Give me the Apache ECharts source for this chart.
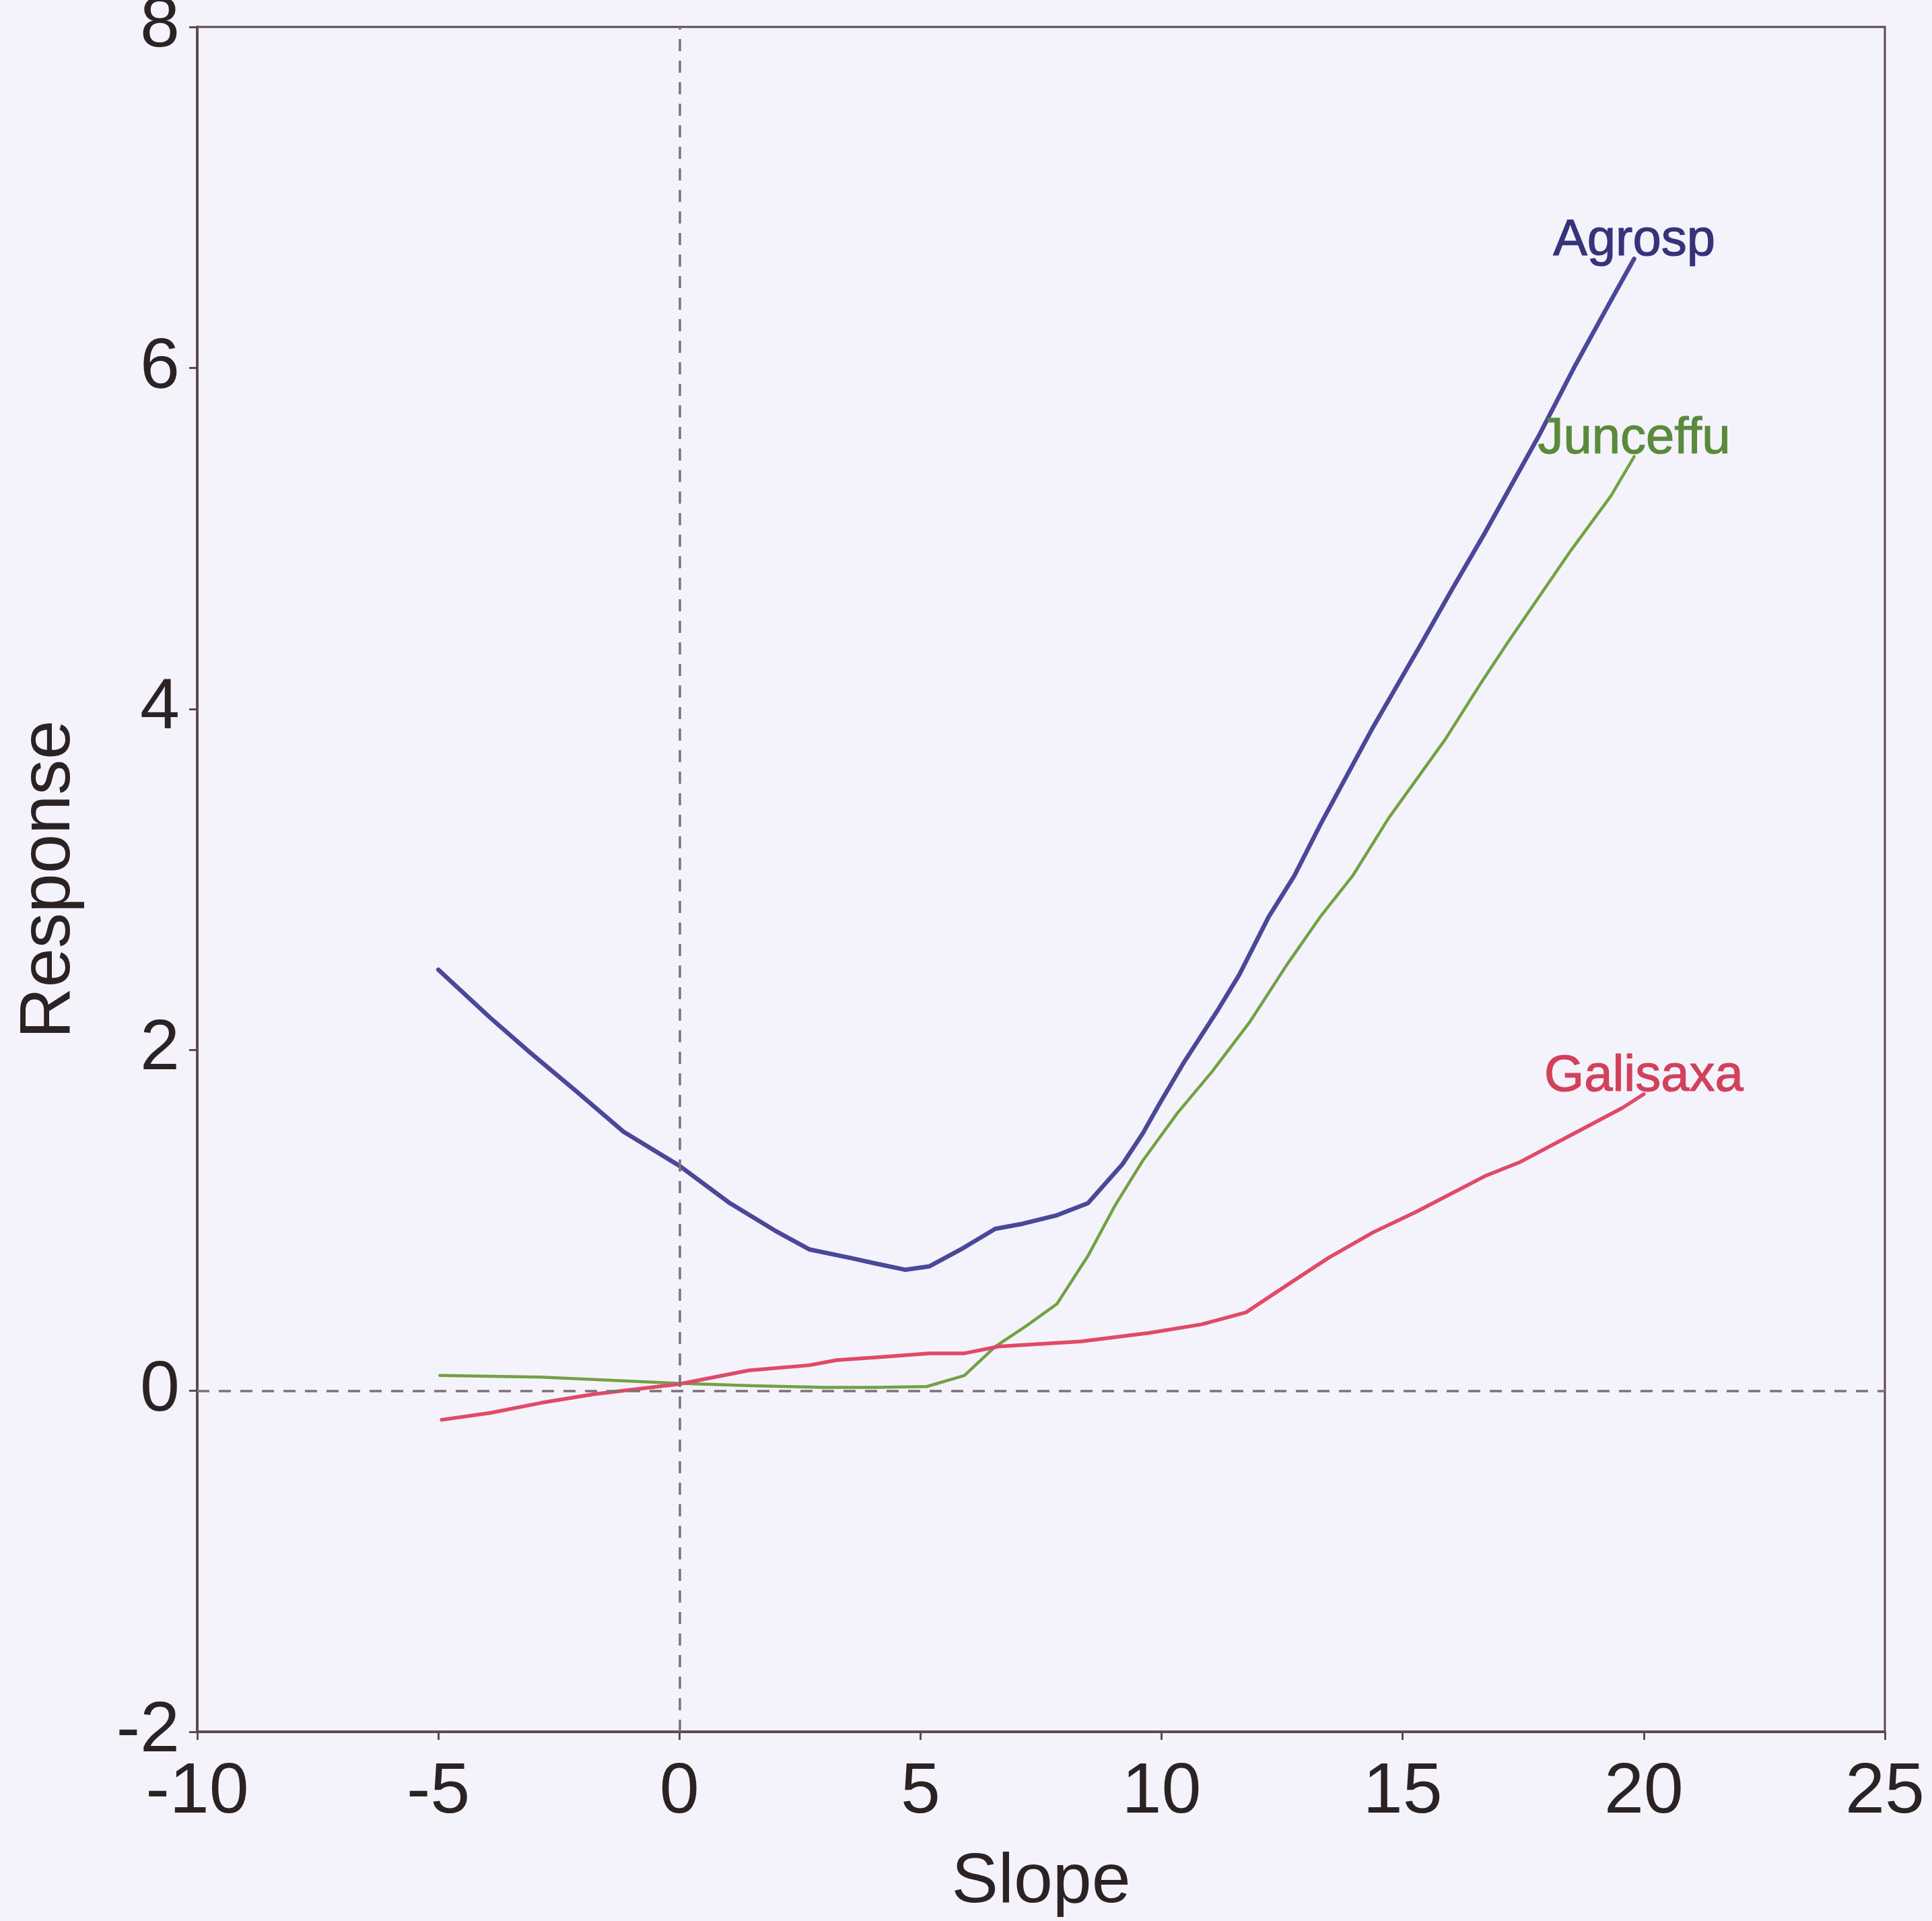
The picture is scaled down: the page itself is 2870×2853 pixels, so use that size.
<!DOCTYPE html>
<html>
<head>
<meta charset="utf-8">
<title>Response vs Slope</title>
<script src="https://cdn.jsdelivr.net/npm/echarts@6/dist/echarts.min.js"></script>
<style>
  html, body { margin: 0; padding: 0; background: #f4f3fb; }
  #chart { width: 2870px; height: 2853px; }
</style>
</head>
<body>
<div id="chart"></div>
<script>
// Fitted species response curves along the slope gradient
const agroSlope = [-5.0, -3.93, -3.08, -2.15, -1.16, 0.0, 1.05, 1.98, 2.69, 3.54, 4.1, 4.69, 5.18, 5.84, 6.55, 7.12, 7.83, 8.47, 9.19, 9.61, 9.97, 10.47, 11.18, 11.61, 12.22, 12.75, 13.29, 14.36, 15.42, 16.02, 16.7, 17.82, 18.55, 19.23, 19.8];
const agroResp  = [2.47, 2.19, 1.98, 1.76, 1.52, 1.32, 1.10, 0.94, 0.83, 0.78, 0.745, 0.71, 0.73, 0.83, 0.95, 0.98, 1.03, 1.10, 1.33, 1.51, 1.69, 1.93, 2.24, 2.44, 2.78, 3.02, 3.32, 3.88, 4.40, 4.70, 5.03, 5.60, 6.00, 6.35, 6.64];

const juncSlope = [-4.97, -2.87, -0.09, 1.5, 3.0, 4.06, 5.13, 5.91, 6.55, 7.19, 7.83, 8.47, 9.04, 9.61, 10.33, 11.04, 11.82, 12.6, 13.29, 13.96, 14.71, 15.88, 16.62, 17.18, 18.49, 19.32, 19.8];
const juncResp  = [0.09, 0.08, 0.045, 0.03, 0.02, 0.02, 0.025, 0.09, 0.26, 0.38, 0.51, 0.79, 1.09, 1.35, 1.63, 1.87, 2.16, 2.50, 2.78, 3.02, 3.36, 3.82, 4.15, 4.39, 4.93, 5.25, 5.48];

const galiSlope = [-4.93, -3.93, -2.86, -1.79, 0.0, 1.44, 2.69, 3.26, 4.26, 5.18, 5.91, 6.62, 8.33, 9.75, 10.83, 11.75, 12.6, 13.46, 14.39, 15.28, 16.71, 17.42, 18.49, 19.56, 20.0];
const galiResp  = [-0.17, -0.13, -0.07, -0.02, 0.04, 0.12, 0.15, 0.18, 0.20, 0.22, 0.22, 0.26, 0.29, 0.34, 0.39, 0.46, 0.62, 0.78, 0.93, 1.05, 1.26, 1.34, 1.50, 1.66, 1.74];

const xTicks = { min: -10, max: 25, step: 5 };
const yTicks = { min: -2, max: 8, step: 2 };

const FONT = '"Liberation Sans", Arial, sans-serif';
const AXIS_COLOR = '#5b4a4e';
const TEXT_COLOR = '#2b2224';

// Pair x/y arrays; the final point carries the species name as its label
function buildData(xs, ys, name, labelColor) {
  return xs.map((x, i) => {
    const item = { value: [x, ys[i]] };
    if (i === xs.length - 1) {
      item.label = {
        show: true,
        formatter: name,
        position: 'top',
        distance: -12,
        color: labelColor,
        fontSize: 76,
        fontFamily: FONT,
        textBorderColor: labelColor,
        textBorderWidth: 1.2
      };
    }
    return item;
  });
}

function curve(name, xs, ys, lineColor, labelColor, width) {
  return {
    name: name,
    type: 'line',
    data: buildData(xs, ys, name, labelColor),
    smooth: false,
    symbol: 'circle',
    symbolSize: 0,
    showSymbol: true,
    lineStyle: { color: lineColor, width: width, join: 'round', cap: 'round' },
    itemStyle: { color: lineColor },
    emphasis: { disabled: true },
    z: 3
  };
}

const chart = echarts.init(document.getElementById('chart'), null, { renderer: 'canvas' });

chart.setOption({
  animation: false,
  backgroundColor: '#f4f3fb',
  grid: {
    left: 293, right: 70, top: 40, bottom: 281,
    outerBoundsMode: 'none',
    containLabel: false,
    show: true,
    borderColor: AXIS_COLOR,
    borderWidth: 3,
    backgroundColor: 'transparent'
  },
  xAxis: {
    type: 'value',
    min: xTicks.min, max: xTicks.max, interval: xTicks.step,
    name: 'Slope',
    nameLocation: 'middle',
    nameGap: 172,
    nameTextStyle: { fontSize: 104, color: TEXT_COLOR, fontFamily: FONT },
    axisLine: { show: true, onZero: false, lineStyle: { color: AXIS_COLOR, width: 4 } },
    axisTick: { show: true, length: 12, lineStyle: { color: AXIS_COLOR, width: 3 } },
    axisLabel: { fontSize: 106, color: TEXT_COLOR, fontFamily: FONT, margin: 38 },
    splitLine: { show: false }
  },
  yAxis: {
    type: 'value',
    min: yTicks.min, max: yTicks.max, interval: yTicks.step,
    name: 'Response',
    nameLocation: 'middle',
    nameGap: 166,
    nameRotate: 90,
    nameTextStyle: { fontSize: 105, color: TEXT_COLOR, fontFamily: FONT },
    axisLine: { show: true, onZero: false, lineStyle: { color: AXIS_COLOR, width: 4 } },
    axisTick: { show: true, length: 12, lineStyle: { color: AXIS_COLOR, width: 3 } },
    axisLabel: {
      fontSize: 106, color: TEXT_COLOR, fontFamily: FONT, margin: 26,
      padding: [10, 0, 0, 0]
    },
    splitLine: { show: false }
  },
  series: [
    {
      name: 'zero',
      type: 'line',
      data: [],
      silent: true,
      markLine: {
        silent: true,
        symbol: 'none',
        label: { show: false },
        lineStyle: { color: '#7f7078', width: 3.5, type: [18, 14] },
        emphasis: { disabled: true },
        data: [{ yAxis: 0 }, { xAxis: 0 }]
      },
      z: 1
    },
    curve('Agrosp', agroSlope, agroResp, '#4b4799', '#35337a', 6.5),
    curve('Junceffu', juncSlope, juncResp, '#74a044', '#5a8a3c', 4.5),
    curve('Galisaxa', galiSlope, galiResp, '#e04a68', '#d2405c', 5.5)
  ]
});
</script>
</body>
</html>
